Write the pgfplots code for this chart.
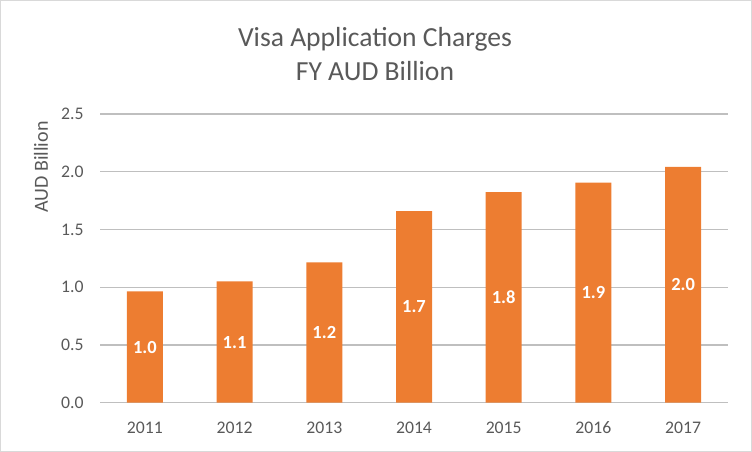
\documentclass[border=0pt]{standalone}
\usepackage{pgfplots}
\pgfplotsset{compat=1.18}
\usepackage{fontspec}
\setmainfont{Carlito}
\definecolor{barc}{HTML}{ED7D31}
\definecolor{txt}{HTML}{595959}
\definecolor{grid}{HTML}{D9D9D9}
\begin{document}
\begin{tikzpicture}
\useasboundingbox (0,0) rectangle (752bp,-452bp);
\draw[grid, line width=1bp] (0.5bp,-0.5bp) rectangle (751.5bp,-451.5bp);
\node[txt, align=center, font=\fontsize{27.6bp}{34bp}\selectfont] at (375bp,-54bp) {Visa Application Charges\\FY AUD Billion};
\begin{axis}[
  at={(100bp,-402.7bp)}, anchor=south west,
  scale only axis, width=628bp, height=288.7bp,
  xmin=-0.5, xmax=6.5, ymin=0, ymax=2.5,
  xtick={0,1,2,3,4,5,6},
  xticklabels={2011,2012,2013,2014,2015,2016,2017},
  ytick={0,0.5,1,1.5,2,2.5},
  yticklabel style={/pgf/number format/fixed, /pgf/number format/fixed zerofill, /pgf/number format/precision=1, xshift=-13bp},
  /pgf/number format/assume math mode=true,
  xmajorgrids=false, ymajorgrids=true, major grid style={grid, line width=1.2bp},
  xtick style={draw=none}, ytick style={draw=none},
  axis line style={draw=none},
  major tick length=0pt,
  tick label style={txt, font=\fontsize{17.7bp}{21bp}\selectfont},
  xticklabel style={yshift=-15bp, text height=12bp, text depth=0pt},
  ylabel={AUD Billion},
  every axis y label/.style={at={(-59bp,235.7bp)}, rotate=90, anchor=center, txt, font=\fontsize{20bp}{24bp}\selectfont},
  clip=false,
]
\addplot[ybar, bar width=36bp, fill=barc, draw=none, bar shift=0pt] coordinates {
(0,0.963) (1,1.05) (2,1.215) (3,1.658) (4,1.823) (5,1.905) (6,2.043)};
\addplot[only marks, mark=none, draw=none,
  nodes near coords, point meta=explicit symbolic,
  every node near coord/.style={anchor=center, white, text height=12bp, text depth=0pt, font=\bfseries\fontsize{18.5bp}{21bp}\selectfont}]
  coordinates {
(0,0.4815)[1.0] (1,0.525)[1.1] (2,0.6075)[1.2] (3,0.829)[1.7] (4,0.9115)[1.8] (5,0.9525)[1.9] (6,1.0215)[2.0]};
\end{axis}
\end{tikzpicture}
\end{document}
